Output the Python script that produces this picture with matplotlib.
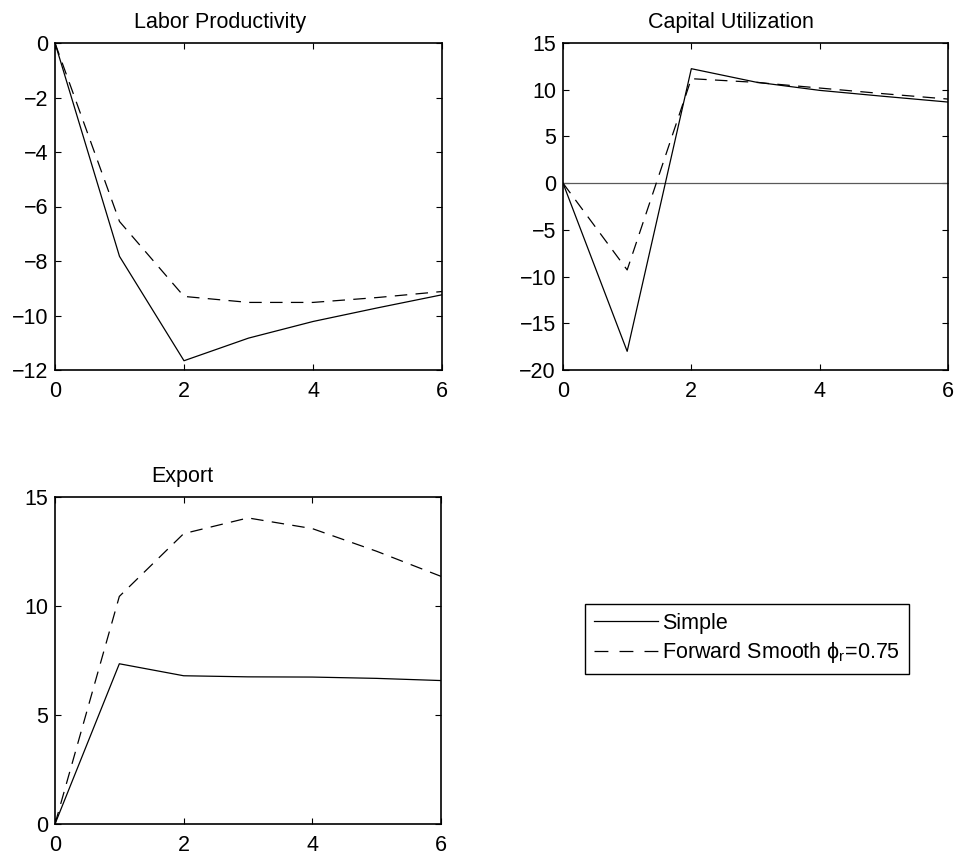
import numpy as np
import matplotlib
matplotlib.use("Agg")
import matplotlib.pyplot as plt

plt.rcParams['font.family'] = ['Liberation Sans', 'DejaVu Sans']
plt.rcParams['mathtext.fontset'] = 'custom'
plt.rcParams['mathtext.rm'] = 'Liberation Sans'
plt.rcParams['mathtext.it'] = 'Liberation Sans'
plt.rcParams['mathtext.fallback'] = 'stixsans'
plt.rcParams['lines.scale_dashes'] = False

horizon = [0, 1, 2, 3, 4, 5, 6]

labor_simple = [0, -7.83, -11.66, -10.83, -10.22, -9.72, -9.24]
labor_smooth = [0, -6.55, -9.30, -9.52, -9.52, -9.34, -9.12]

capital_simple = [0, -18.0, 12.25, 10.82, 9.93, 9.29, 8.68]
capital_smooth = [0, -9.29, 11.18, 10.79, 10.18, 9.57, 9.0]

export_simple = [0, 7.35, 6.80, 6.75, 6.74, 6.68, 6.58]
export_smooth = [0, 10.44, 13.32, 14.04, 13.55, 12.51, 11.36]

labels = ['Simple', r'Forward Smooth $\phi_r$=0.75']

FS = 15.5
W, H = 958, 857
fig = plt.figure(figsize=(W / 100, H / 100), dpi=100)


def make_ax(l, t, r, b):
    return fig.add_axes([l / W, 1 - b / H, (r - l) / W, (b - t) / H])


def style(ax, title, tx, ylim, yticks):
    ax.set_xlim(0, 6)
    ax.set_xticks([0, 2, 4, 6])
    ax.set_ylim(*ylim)
    ax.set_yticks(yticks)
    ax.set_yticklabels([('\u2212' + str(abs(v))) if v < 0 else str(v) for v in yticks])
    ax.tick_params(direction='in', top=True, right=True, length=4, width=0.8,
                   labelsize=FS, pad=8)
    ax.tick_params(axis='y', pad=5)
    for s in ax.spines.values():
        s.set_linewidth(1.2)
    ax.set_title(title, fontsize=FS, x=tx, pad=11)


dash = (0, (9, 6))
lw = 0.9

ax1 = make_ax(55, 43, 442, 370)
ax1.plot(horizon, labor_simple, color='black', lw=lw, label=labels[0])
ax1.plot(horizon, labor_smooth, color='black', lw=lw, linestyle=dash, label=labels[1])
style(ax1, 'Labor Productivity', 0.426, (-12, 0), [-12, -10, -8, -6, -4, -2, 0])

ax2 = make_ax(563, 43, 948, 370)
ax2.axhline(0, color='0.35', lw=0.9)
ax2.plot(horizon, capital_simple, color='black', lw=lw)
ax2.plot(horizon, capital_smooth, color='black', lw=lw, linestyle=dash)
style(ax2, 'Capital Utilization', 0.436, (-20, 15), [-20, -15, -10, -5, 0, 5, 10, 15])

ax3 = make_ax(55, 497, 441, 824)
ax3.plot(horizon, export_simple, color='black', lw=lw)
ax3.plot(horizon, export_smooth, color='black', lw=lw, linestyle=dash)
style(ax3, 'Export', 0.33, (0, 15), [0, 5, 10, 15])

handles, labs = ax1.get_legend_handles_labels()
leg = fig.legend(handles, labs, loc='upper left',
                 bbox_to_anchor=(585 / W, 1 - 604 / H), bbox_transform=fig.transFigure,
                 borderaxespad=0, fontsize=FS, fancybox=False, framealpha=1,
                 edgecolor='black', handlelength=3.0, handletextpad=0.2,
                 borderpad=0.4, labelspacing=0.3)
leg.get_frame().set_linewidth(1.0)
leg.get_lines()[1].set_dashes((10, 8))

fig.savefig('out.png', dpi=100)
